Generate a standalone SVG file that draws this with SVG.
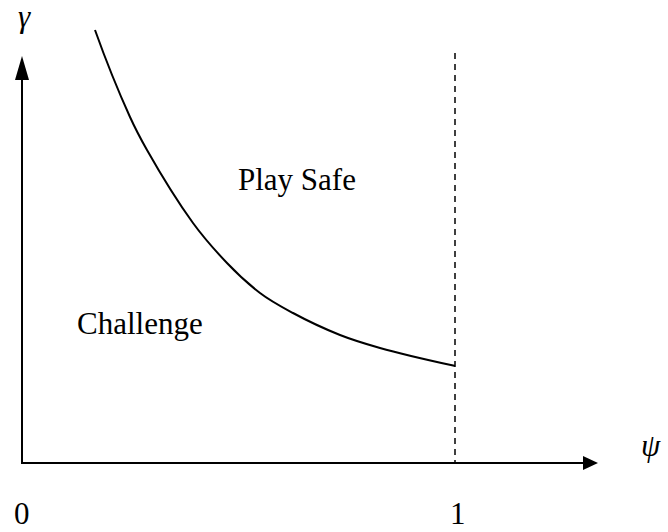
<svg xmlns="http://www.w3.org/2000/svg" width="668" height="532" viewBox="0 0 668 532">
  <style>
    .ax { stroke: #000; stroke-width: 2; fill: none; }
    .curve { stroke: #000; stroke-width: 2; fill: none; }
    .dash { stroke: #000; stroke-width: 1.5; fill: none; stroke-dasharray: 6 5; }
    .lbl { font-family: 'Liberation Serif', 'Tinos', 'DejaVu Serif', serif; font-size: 31px; fill: #000; }
    .sym { font-family: 'Liberation Serif', 'Tinos', 'DejaVu Serif', serif; font-size: 31px; font-style: italic; fill: #000; }
  </style>
  <rect width="668" height="532" fill="#fff"/>
  <g id="axes">
    <line class="ax" x1="22" y1="464" x2="22" y2="72"/>
    <polygon points="22,56 15,80 29,80" fill="#000"/>
    <line class="ax" x1="21" y1="463" x2="588" y2="463"/>
    <polygon points="598,463 583,456 583,470" fill="#000"/>
  </g>
  <g id="connectors">
    <line class="dash" x1="455" y1="53" x2="455" y2="463"/>
    <!-- boundary curve, piecewise Hermite in x -->
    <path class="curve" d="M95,30 C106.67,62.7 118.33,91.3 130,117 C135.67,129.5 141.33,140 147,150 C162.33,177.1 177.67,201.8 193,223 C204.33,238.6 215.67,251.1 227,263 C238,274.6 249,284.6 260,293 C271,301.4 282,307.1 293,313 C308.67,321.5 324.33,328.7 340,335 C353.33,340.3 366.67,344.2 380,348 C405,355.1 430,360.5 455,366"/>
  </g>
  <g id="labels">
    <text class="sym" x="18" y="27">γ</text>
    <text class="sym" x="641" y="456">ψ</text>
    <text class="lbl" x="238" y="190">Play Safe</text>
    <text class="lbl" x="77" y="334">Challenge</text>
    <text class="lbl" x="14" y="524">0</text>
    <text class="lbl" x="450" y="524">1</text>
  </g>
</svg>
